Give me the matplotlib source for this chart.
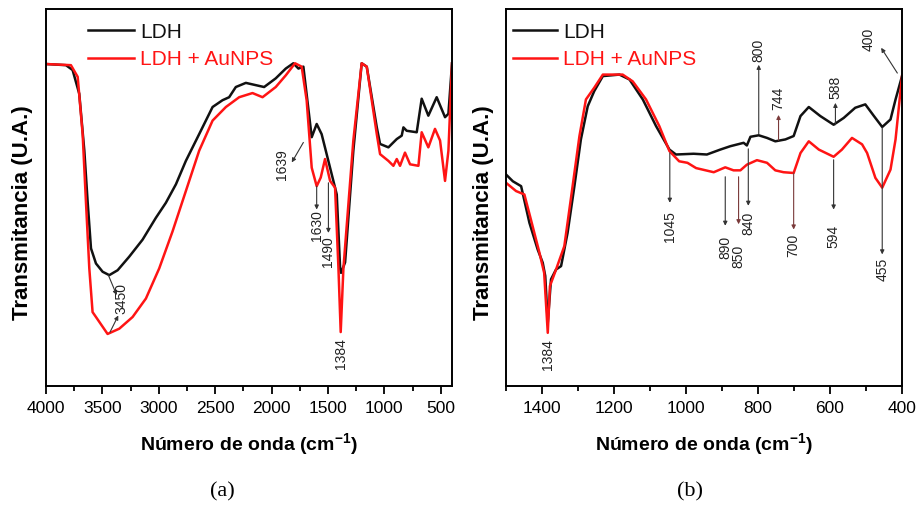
import matplotlib.pyplot as plt
from matplotlib.ticker import MultipleLocator

plt.rcParams['font.family'] = ['Liberation Sans', 'DejaVu Sans']

# Espectro completo (a): numero de onda y transmitancia relativa
wn_a_ldh = [4000, 3823, 3764, 3705, 3660, 3631, 3601, 3557, 3498, 3439, 3365, 3262,
            3144, 3026, 2937, 2848, 2760, 2642, 2523, 2435, 2376, 2317, 2228, 2140,
            2066, 1963, 1874, 1807, 1762, 1718, 1644, 1600, 1556, 1452, 1422, 1392,
            1384, 1348, 1275, 1201, 1156, 1067, 1038, 964, 890, 846, 831, 802, 713,
            669, 610, 536, 462, 432, 400]
tr_a_ldh = [85.4, 85.1, 83.8, 77.5, 62.4, 49.0, 36.5, 32.5, 30.3, 29.4, 30.7, 34.3,
            38.8, 44.6, 48.6, 53.5, 59.7, 66.8, 74.0, 75.8, 76.6, 79.3, 80.4, 79.8,
            79.3, 81.6, 84.2, 85.6, 84.2, 84.7, 66.0, 69.5, 66.8, 54.4, 50.8, 31.2,
            30.0, 32.8, 62.4, 85.6, 84.7, 68.6, 64.2, 63.3, 65.5, 66.4, 68.6, 67.7,
            67.3, 76.2, 71.7, 76.6, 71.3, 72.2, 85.6]

wn_a_au = [4000, 3779, 3719, 3675, 3646, 3616, 3587, 3557, 3454, 3350, 3232, 3114,
           2996, 2878, 2760, 2642, 2523, 2405, 2287, 2169, 2080, 1963, 1874, 1792,
           1733, 1689, 1644, 1600, 1564, 1526, 1481, 1437, 1407, 1387, 1363, 1275,
           1201, 1156, 1067, 1038, 964, 920, 890, 861, 817, 772, 698, 669, 610, 551,
           506, 462, 432, 400]
tr_a_au = [85.4, 85.1, 82.0, 66.8, 49.0, 31.2, 19.6, 18.3, 13.8, 15.2, 18.3, 23.2,
           31.2, 41.0, 51.7, 62.4, 70.4, 74.0, 76.6, 77.7, 76.6, 79.3, 82.4, 85.6,
           84.7, 75.8, 57.9, 53.0, 55.3, 60.2, 54.4, 52.6, 31.2, 14.3, 31.2, 65.1,
           85.6, 84.7, 66.8, 61.5, 59.7, 58.4, 60.2, 58.4, 61.9, 58.8, 58.4, 67.3,
           63.3, 68.2, 65.1, 54.4, 62.4, 85.6]

# Region de huella dactilar (b)
wn_b_ldh = [1500, 1481, 1458, 1435, 1412, 1398, 1391, 1384, 1375, 1361, 1347, 1329,
            1310, 1292, 1273, 1255, 1231, 1185, 1157, 1120, 1083, 1046, 1028, 979,
            942, 905, 877, 840, 831, 821, 798, 775, 752, 724, 701, 682, 659, 627,
            590, 562, 530, 502, 478, 455, 432, 418, 400]
tr_b_ldh = [56.1, 54.3, 53.0, 43.3, 36.2, 32.7, 29.2, 16.8, 28.3, 30.9, 31.8, 40.6,
            53.0, 65.4, 74.2, 78.2, 82.2, 82.6, 81.3, 76.0, 68.9, 62.7, 61.4, 61.6,
            61.4, 62.7, 63.6, 64.5, 63.8, 66.1, 66.5, 65.8, 64.9, 65.4, 66.3, 71.6,
            74.0, 71.6, 69.3, 71.1, 73.8, 74.7, 71.6, 68.7, 70.7, 76.0, 82.2]

wn_b_au = [1500, 1472, 1449, 1431, 1407, 1394, 1384, 1378, 1361, 1338, 1315, 1296,
           1278, 1255, 1231, 1176, 1148, 1111, 1074, 1046, 1019, 996, 972, 923, 891,
           868, 849, 831, 803, 775, 752, 729, 701, 682, 659, 631, 590, 567, 539,
           511, 497, 474, 455, 432, 418, 400]
tr_b_au = [53.9, 51.7, 50.8, 44.2, 35.3, 30.0, 14.1, 26.5, 30.9, 37.1, 53.0, 66.3,
           76.0, 79.1, 82.6, 82.6, 80.8, 76.0, 68.9, 62.3, 59.6, 59.2, 57.8, 56.7,
           58.0, 57.2, 57.2, 58.7, 59.9, 59.2, 57.2, 56.7, 56.5, 61.8, 64.9, 62.7,
           60.8, 62.7, 65.8, 64.1, 61.8, 55.2, 52.6, 57.4, 65.4, 82.2]

BLACK = '#111111'
RED = '#ff1414'
ARROW = '#333333'
BROWN = '#7a3a3a'

fig = plt.figure(figsize=(9.18, 5.08), dpi=100)
ax1 = fig.add_axes([0.0501, 0.2402, 0.4423, 0.7421])
ax2 = fig.add_axes([0.5512, 0.2402, 0.4314, 0.7421])

ax1.plot(wn_a_ldh, tr_a_ldh, color=BLACK, lw=1.8, label='LDH')
ax1.plot(wn_a_au, tr_a_au, color=RED, lw=1.8, label='LDH + AuNPS')
ax2.plot(wn_b_ldh, tr_b_ldh, color=BLACK, lw=1.8, label='LDH')
ax2.plot(wn_b_au, tr_b_au, color=RED, lw=1.8, label='LDH + AuNPS')

ax1.set_xlim(4000, 400)
ax2.set_xlim(1500, 400)
for ax, major, minor in ((ax1, 500, 250), (ax2, 200, 100)):
    ax.set_ylim(0, 100)
    ax.xaxis.set_major_locator(MultipleLocator(major))
    ax.xaxis.set_minor_locator(MultipleLocator(minor))
    ax.tick_params(axis='x', which='major', length=6, width=1.3, pad=5,
                   labelsize=12.5, direction='out')
    ax.tick_params(axis='x', which='minor', length=3.5, width=1.3, direction='out')
    ax.set_yticks([])
    for sp in ax.spines.values():
        sp.set_linewidth(1.4)
    ax.set_xlabel('Número de onda (cm$^{\\mathregular{-1}}$)', fontsize=14,
                  fontweight='bold')
    ax.xaxis.set_label_coords(0.5, -0.156)
    ax.xaxis.label.set_va('center')
    ax.set_ylabel('Transmitancia (U.A.)', fontsize=16, fontweight='bold')
    ax.yaxis.set_label_coords(-0.057, 0.46)
    ax.yaxis.label.set_va('center')

ax1.legend(loc='upper left', bbox_to_anchor=(0.103, 0.964), frameon=False,
           fontsize=15, handlelength=2.2, handletextpad=0.3, labelspacing=0.4,
           borderpad=0, borderaxespad=0, labelcolor='linecolor')
ax2.legend(loc='upper left', bbox_to_anchor=(0.018, 0.964), frameon=False,
           fontsize=15, handlelength=2.1, handletextpad=0.3, labelspacing=0.4,
           borderpad=0, borderaxespad=0, labelcolor='linecolor')


def arrow(ax, start, end, color=ARROW):
    ax.annotate('', xy=end, xytext=start,
                arrowprops=dict(arrowstyle='-|>', color=color, lw=0.8,
                                mutation_scale=6, shrinkA=0, shrinkB=0))


def label(ax, x, y, text):
    ax.text(x, y, text, rotation=90, fontsize=10, ha='center', va='center',
            color='#222222')


def band(ax, text, x, y0, y1, ytext, color=ARROW):
    # linea vertical con flecha desde la banda hasta su numero de onda
    arrow(ax, (x, y0), (x, y1), color)
    label(ax, x, ytext, text)


# Bandas del espectro completo
arrow(ax1, (3447, 29.4), (3373, 24.1))
arrow(ax1, (3432, 14.3), (3359, 18.7))
label(ax1, 3329, 23.2, '3450')
arrow(ax1, (1718, 64.6), (1821, 59.3))
label(ax1, 1910, 58.8, '1639')
band(ax1, '1630', 1600, 53.0, 46.8, 42.6)
band(ax1, '1490', 1496, 53.9, 40.6, 35.7)
label(ax1, 1387, 8.7, '1384')

# Bandas de la region 1500-400
label(ax2, 1384, 8.4, '1384')
band(ax2, '1045', 1045, 61.8, 48.6, 42.4)
band(ax2, '890', 891, 55.5, 42.5, 36.7)
band(ax2, '850', 854, 55.5, 42.9, 34.5, color=BROWN)
band(ax2, '840', 827, 62.9, 47.8, 43.1)
band(ax2, '700', 701, 56.5, 41.5, 37.3, color=BROWN)
band(ax2, '594', 590, 60.0, 46.8, 39.6)
band(ax2, '455', 455, 68.5, 34.9, 30.9)
band(ax2, '800', 798, 66.9, 85.2, 89.0)
band(ax2, '744', 743, 65.2, 71.9, 76.4, color=BROWN)
band(ax2, '588', 585, 69.3, 75.1, 79.1)
arrow(ax2, (413, 83.0), (458, 89.7))
label(ax2, 493, 92.0, '400')

fig.text(222 / 918, 1 - 492 / 508, '(a)', family=['Liberation Serif', 'DejaVu Serif'],
         fontsize=16, ha='center', va='center')
fig.text(690 / 918, 1 - 492 / 508, '(b)', family=['Liberation Serif', 'DejaVu Serif'],
         fontsize=16, ha='center', va='center')

fig.savefig('out.png', dpi=100)
